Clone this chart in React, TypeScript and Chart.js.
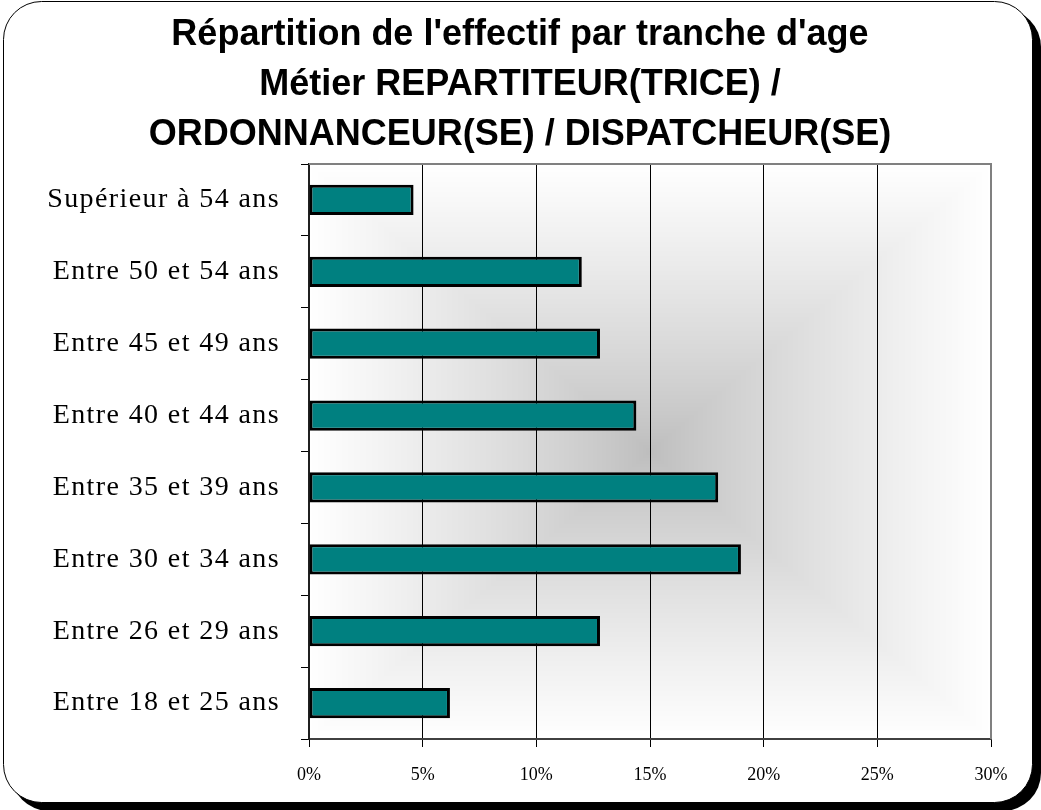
import React, { useEffect, useRef } from 'react';
import { Chart, registerables } from 'chart.js';

Chart.register(...registerables);

const titleLines = [
  "Répartition de l'effectif par tranche d'age",
  'Métier REPARTITEUR(TRICE) /',
  'ORDONNANCEUR(SE) / DISPATCHEUR(SE)',
];
const ageBands = [
  'Entre 18 et 25 ans',
  'Entre 26 et 29 ans',
  'Entre 30 et 34 ans',
  'Entre 35 et 39 ans',
  'Entre 40 et 44 ans',
  'Entre 45 et 49 ans',
  'Entre 50 et 54 ans',
  'Supérieur à 54 ans',
];
const shares = [6.2, 12.8, 19.0, 18.0, 14.4, 12.8, 12.0, 4.6];
const xMin = 0;
const xMax = 30;
const xStep = 5;

const W = 1041;
const H = 810;

const framePlugin = {
  id: 'frameAndGradient',
  beforeDraw(chart: any) {
    const ctx = chart.ctx as CanvasRenderingContext2D;
    ctx.save();
    ctx.fillStyle = '#ffffff';
    ctx.fillRect(0, 0, chart.width, chart.height);
    // shadow
    ctx.fillStyle = '#000000';
    ctx.beginPath();
    (ctx as any).roundRect(11, 9, 1030, 802, 38);
    ctx.fill();
    // frame
    ctx.fillStyle = '#ffffff';
    ctx.strokeStyle = '#000000';
    ctx.lineWidth = 1;
    ctx.beginPath();
    (ctx as any).roundRect(3.5, 1.5, 1029, 801, 38);
    ctx.fill();
    ctx.stroke();

    // rectangular "from center" gradient of the plot area
    const { left, top, right, bottom } = chart.chartArea;
    const x0 = Math.round(left);
    const y0 = Math.round(top);
    const w = Math.round(right) - x0;
    const h = Math.round(bottom) - y0;
    const off = document.createElement('canvas');
    off.width = w;
    off.height = h;
    const octx = off.getContext('2d') as CanvasRenderingContext2D;
    const img = octx.createImageData(w, h);
    const hw = w / 2;
    const hh = h / 2;
    const dark = 189;
    for (let j = 0; j < h; j++) {
      const ty = Math.abs(j + 0.5 - hh) / hh;
      for (let i = 0; i < w; i++) {
        const tx = Math.abs(i + 0.5 - hw) / hw;
        const t = Math.max(tx, ty);
        const v = Math.round(dark + (255 - dark) * Math.pow(t, 0.85));
        const k = (j * w + i) * 4;
        img.data[k] = v;
        img.data[k + 1] = v;
        img.data[k + 2] = v;
        img.data[k + 3] = 255;
      }
    }
    octx.putImageData(img, 0, 0);
    ctx.drawImage(off, x0, y0);
    ctx.restore();
  },
  beforeDatasetsDraw(chart: any) {
    const ctx = chart.ctx as CanvasRenderingContext2D;
    const { left, top, right, bottom } = chart.chartArea;
    ctx.save();
    ctx.strokeStyle = '#808080';
    ctx.lineWidth = 2;
    ctx.beginPath();
    ctx.moveTo(left, top);
    ctx.lineTo(right, top);
    ctx.lineTo(right, bottom);
    ctx.stroke();
    ctx.restore();
  },
};

export default function App() {
  const ref = useRef<HTMLCanvasElement | null>(null);

  useEffect(() => {
    if (!ref.current) return;
    const chart = new Chart(ref.current, {
      type: 'bar',
      data: {
        labels: ageBands,
        datasets: [
          {
            data: shares,
            backgroundColor: '#008080',
            borderColor: '#000000',
            borderWidth: 3,
            borderSkipped: false,
            barPercentage: 0.42,
            categoryPercentage: 1,
          },
        ],
      },
      options: {
        indexAxis: 'y',
        responsive: false,
        animation: false,
        devicePixelRatio: 1,
        layout: { padding: { left: 49, right: 50, top: 0, bottom: 0 } },
        plugins: {
          legend: { display: false },
          tooltip: { enabled: false },
          title: {
            display: true,
            text: titleLines,
            color: '#000000',
            font: { family: "'Liberation Sans', Arial, sans-serif", size: 36, weight: 'bold', lineHeight: 50 / 36 },
            padding: { top: 10, bottom: 4 },
          },
        },
        scales: {
          x: {
            min: xMin,
            max: xMax,
            ticks: {
              stepSize: xStep,
              color: '#000000',
              padding: 17,
              font: { family: "'Liberation Serif', 'Times New Roman', serif", size: 18 },
              callback: (v: any) => `${v}%`,
            },
            grid: { color: '#000000', lineWidth: 1, drawTicks: true, tickLength: 8, tickColor: '#000000' },
            border: { display: true, color: '#404040', width: 2 },
            afterFit: (scale: any) => {
              scale.height = 71;
            },
          },
          y: {
            reverse: true,
            ticks: {
              color: '#000000',
              padding: 21,
              font: { family: "'Liberation Serif', 'Times New Roman', serif", size: 28 },
            },
            grid: { drawOnChartArea: false, drawTicks: true, tickLength: 8, color: '#000000', offset: true },
            border: { display: true, color: '#202020', width: 2 },
            afterFit: (scale: any) => {
              scale.width = 260;
              if (!scale.__spaced) {
                const orig = scale.drawLabels.bind(scale);
                scale.drawLabels = (area: any) => {
                  const c = scale.ctx;
                  c.save();
                  (c as any).letterSpacing = '1.4px';
                  orig(area);
                  c.restore();
                };
                scale.__spaced = true;
              }
            },
          },
        },
      },
      plugins: [framePlugin],
    } as any);
    return () => chart.destroy();
  }, []);

  return (
    <canvas
      ref={ref}
      width={W}
      height={H}
      style={{ position: 'absolute', left: 0, top: 0, width: W, height: H, display: 'block' }}
    />
  );
}
